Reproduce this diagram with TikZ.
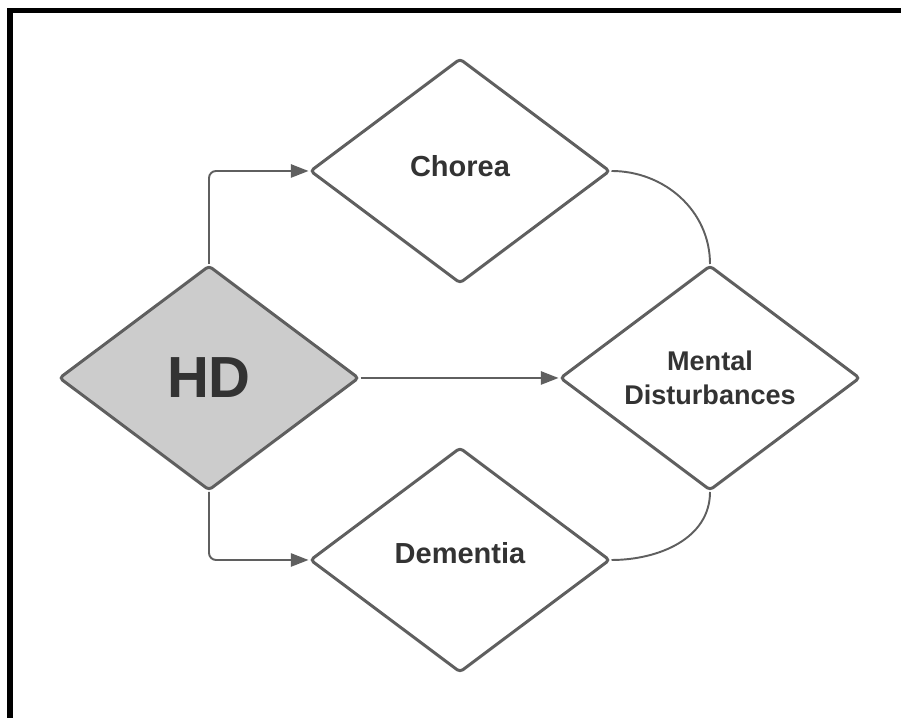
\documentclass[tikz,border=0pt]{standalone}
\usepackage{fontspec}
\setmainfont{Liberation Sans}
\usetikzlibrary{shapes.geometric,arrows.meta}
\definecolor{linegray}{HTML}{5F5F5F}
\definecolor{hdfill}{HTML}{CCCCCC}
\definecolor{textgray}{HTML}{333333}

\begin{document}
\begin{tikzpicture}[
  box/.style = {diamond, draw = linegray, line width = 1.7pt, rounded corners = 2pt,
                minimum width = 6.0cm, minimum height = 4.5cm, inner sep = 0pt,
                text = textgray, font = \bfseries\fontsize{16.5}{19}\selectfont, align = center},
  link/.style = {draw = linegray, line width = 1.1pt},
  arr/.style = {link, rounded corners = 4pt, -{Triangle[length = 10pt, width = 7.5pt]}}]
\useasboundingbox (0,0) rectangle (18.02,14.36);
% frame, cut at the right and at the bottom
\draw [line width = 0.1cm] (0.2,0) -- (0.2,14.14) -- (18.02,14.14);
% the four boxes
\node [box, fill = hdfill, font = \bfseries\fontsize{33}{38}\selectfont] (hd) at (4.18,6.80) {HD};
\node [box, text depth = 0.2cm] (chorea) at (9.20,10.94) {Chorea};
\node [box] (mental) at (14.20,6.80) {\fontsize{15.4}{18.8}\selectfont Mental\\ \fontsize{15.4}{18.8}\selectfont Disturbances};
\node [box, text depth = 0.28cm] (dementia) at (9.20,3.16) {Dementia};
% arrows out of HD
\draw [arr] (hd.north) |- (chorea.west);
\draw [arr] (hd.south) |- (dementia.west);
\draw [arr] (hd.east) -- (mental.west);
% arcs into Mental Disturbances
\draw [link] (chorea.east) to [out = 0, in = 90] (mental.north);
\draw [link] (dementia.east) to [out = 0, in = -90] (mental.south);
\end{tikzpicture}
\end{document}
